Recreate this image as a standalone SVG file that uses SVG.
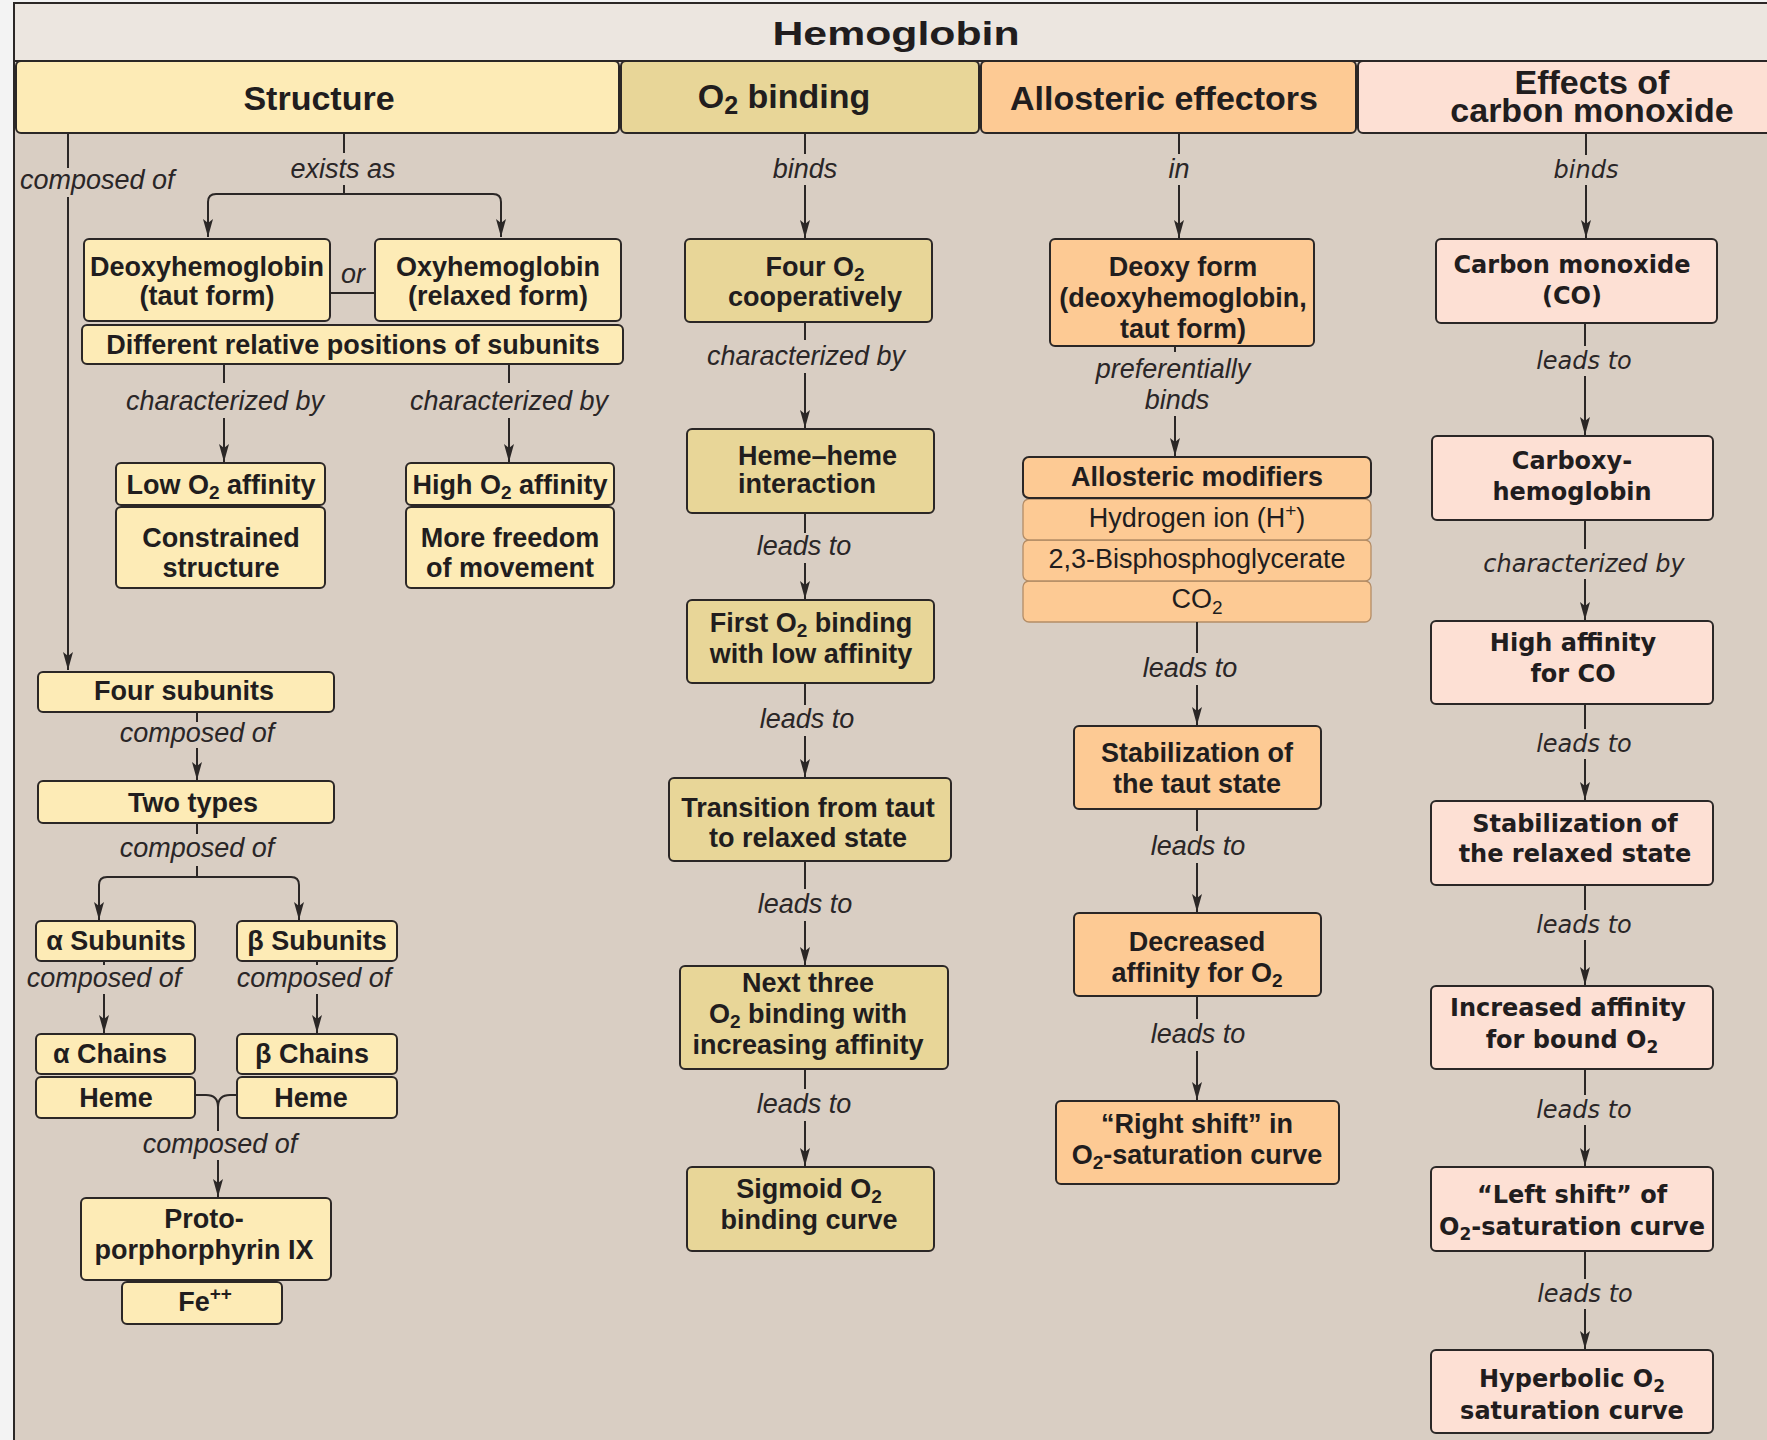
<svg xmlns="http://www.w3.org/2000/svg" width="1767" height="1440" viewBox="0 0 1767 1440">
<style>
.b{font-family:"Liberation Sans",Arial,sans-serif;font-weight:bold;font-size:27px;fill:#211d1e;text-anchor:middle}
.r{font-family:"Liberation Sans",Arial,sans-serif;font-size:27px;fill:#211d1e;text-anchor:middle}
.h{font-family:"Liberation Sans",Arial,sans-serif;font-weight:bold;font-size:34px;fill:#211d1e;text-anchor:middle}
.w{font-family:"DejaVu Sans",Verdana,sans-serif;font-weight:bold;font-size:24px;fill:#211d1e;text-anchor:middle}
.l{font-family:"Liberation Sans",Arial,sans-serif;font-style:italic;font-size:27px;fill:#2a2627;text-anchor:middle}
.lw{font-family:"DejaVu Sans",Verdana,sans-serif;font-style:oblique;font-size:24px;fill:#2a2627;text-anchor:middle}
.bx{stroke:#2b2726;stroke-width:2}
.sb{stroke:#b48d66;stroke-width:1.3}
.s{fill:#fdebb6}.o{fill:#e8d698}.a{fill:#fdca94}.c{fill:#fde0d4}
.ln{fill:none;stroke:#2b2726;stroke-width:2}
.ar{marker-end:url(#ah)}
</style>
<defs>
<marker id="ah" viewBox="0 0 18 10" refX="18" refY="5" markerWidth="18" markerHeight="10" markerUnits="userSpaceOnUse" orient="auto">
<path d="M0,0 L18,5 L0,10 L4,5 Z" fill="#2b2726"/>
</marker>
</defs>

<rect x="0" y="0" width="1767" height="1440" fill="#f3f3f3"/>
<rect x="14" y="3" width="1760" height="1440" fill="#d9cec3" stroke="#2b2726" stroke-width="2"/>

<g id="title">
<rect x="14" y="3" width="1760" height="58" fill="#ece6e0" stroke="#2b2726" stroke-width="2"/>
<text x="896" y="45" class="h" font-size="40" textLength="247" lengthAdjust="spacingAndGlyphs">Hemoglobin</text>
</g>

<g id="hdr-structure">
<rect x="16" y="61" width="603" height="72" rx="5" class="bx s"/>
<text x="319" y="110" class="h">Structure</text>
</g>
<g id="hdr-o2">
<rect x="621" y="61" width="358" height="72" rx="5" class="bx o"/>
<text x="784" y="108" class="h">O<tspan font-size="25" dy="6">2</tspan><tspan dy="-6"> binding</tspan></text>
</g>
<g id="hdr-allosteric">
<rect x="981" y="61" width="375" height="72" rx="5" class="bx a"/>
<text x="1164" y="110" class="h">Allosteric effectors</text>
</g>
<g id="hdr-co">
<rect x="1358" y="61" width="420" height="72" rx="5" class="bx c"/>
<text x="1592" y="94" class="h" font-size="33">Effects of</text>
<text x="1592" y="122" class="h" font-size="33">carbon monoxide</text>
</g>

<!-- Structure column -->
<g id="deoxy">
<rect x="84" y="239" width="246" height="82" rx="5" class="bx s"/>
<text x="207" y="276" class="b">Deoxyhemoglobin</text>
<text x="207" y="305" class="b">(taut form)</text>
</g>
<g id="oxy">
<rect x="375" y="239" width="246" height="82" rx="5" class="bx s"/>
<text x="498" y="276" class="b">Oxyhemoglobin</text>
<text x="498" y="305" class="b">(relaxed form)</text>
</g>
<g id="different">
<rect x="82" y="325" width="541" height="39" rx="5" class="bx s"/>
<text x="353" y="354" class="b">Different relative positions of subunits</text>
</g>
<g id="low-affinity">
<rect x="116" y="463" width="209" height="42" rx="5" class="bx s"/>
<text x="221" y="494" class="b">Low O<tspan font-size="19" dy="5">2</tspan><tspan dy="-5"> affinity</tspan></text>
</g>
<g id="constrained">
<rect x="116" y="507" width="209" height="81" rx="5" class="bx s"/>
<text x="221" y="547" class="b">Constrained</text>
<text x="221" y="577" class="b">structure</text>
</g>
<g id="high-affinity">
<rect x="406" y="463" width="208" height="42" rx="5" class="bx s"/>
<text x="510" y="494" class="b">High O<tspan font-size="19" dy="5">2</tspan><tspan dy="-5"> affinity</tspan></text>
</g>
<g id="more-freedom">
<rect x="406" y="507" width="208" height="81" rx="5" class="bx s"/>
<text x="510" y="547" class="b">More freedom</text>
<text x="510" y="577" class="b">of movement</text>
</g>
<g id="four-subunits">
<rect x="38" y="672" width="296" height="40" rx="5" class="bx s"/>
<text x="184" y="700" class="b">Four subunits</text>
</g>
<g id="two-types">
<rect x="38" y="781" width="296" height="42" rx="5" class="bx s"/>
<text x="193" y="812" class="b">Two types</text>
</g>
<g id="alpha-subunits">
<rect x="36" y="921" width="159" height="40" rx="5" class="bx s"/>
<text x="116" y="950" class="b">α Subunits</text>
</g>
<g id="beta-subunits">
<rect x="237" y="921" width="160" height="40" rx="5" class="bx s"/>
<text x="317" y="950" class="b">β Subunits</text>
</g>
<g id="alpha-chains">
<rect x="36" y="1034" width="159" height="40" rx="5" class="bx s"/>
<text x="110" y="1063" class="b">α Chains</text>
</g>
<g id="alpha-heme">
<rect x="36" y="1077" width="159" height="41" rx="5" class="bx s"/>
<text x="116" y="1107" class="b">Heme</text>
</g>
<g id="beta-chains">
<rect x="237" y="1034" width="160" height="40" rx="5" class="bx s"/>
<text x="312" y="1063" class="b">β Chains</text>
</g>
<g id="beta-heme">
<rect x="237" y="1077" width="160" height="41" rx="5" class="bx s"/>
<text x="311" y="1107" class="b">Heme</text>
</g>
<g id="protoporphyrin">
<rect x="81" y="1198" width="250" height="82" rx="5" class="bx s"/>
<text x="204" y="1228" class="b">Proto-</text>
<text x="204" y="1259" class="b">porphorphyrin IX</text>
</g>
<g id="fe">
<rect x="122" y="1282" width="160" height="42" rx="5" class="bx s"/>
<text x="205" y="1311" class="b">Fe<tspan font-size="19" dy="-11">++</tspan></text>
</g>

<!-- O2 binding column -->
<g id="four-o2">
<rect x="685" y="239" width="247" height="83" rx="5" class="bx o"/>
<text x="815" y="276" class="b">Four O<tspan font-size="19" dy="5">2</tspan></text>
<text x="815" y="306" class="b">cooperatively</text>
</g>
<g id="heme-heme">
<rect x="687" y="429" width="247" height="84" rx="5" class="bx o"/>
<text x="738" y="465" class="b" style="text-anchor:start">Heme–heme</text>
<text x="738" y="493" class="b" style="text-anchor:start">interaction</text>
</g>
<g id="first-o2">
<rect x="687" y="600" width="247" height="83" rx="5" class="bx o"/>
<text x="811" y="632" class="b">First O<tspan font-size="19" dy="5">2</tspan><tspan dy="-5"> binding</tspan></text>
<text x="811" y="663" class="b">with low affinity</text>
</g>
<g id="transition">
<rect x="669" y="778" width="282" height="83" rx="5" class="bx o"/>
<text x="808" y="817" class="b">Transition from taut</text>
<text x="808" y="847" class="b">to relaxed state</text>
</g>
<g id="next-three">
<rect x="680" y="966" width="268" height="103" rx="5" class="bx o"/>
<text x="808" y="992" class="b">Next three</text>
<text x="808" y="1023" class="b">O<tspan font-size="19" dy="5">2</tspan><tspan dy="-5"> binding with</tspan></text>
<text x="808" y="1054" class="b">increasing affinity</text>
</g>
<g id="sigmoid">
<rect x="687" y="1167" width="247" height="84" rx="5" class="bx o"/>
<text x="809" y="1198" class="b">Sigmoid O<tspan font-size="19" dy="5">2</tspan></text>
<text x="809" y="1229" class="b">binding curve</text>
</g>

<!-- Allosteric column -->
<g id="deoxy-form">
<rect x="1050" y="239" width="264" height="107" rx="5" class="bx a"/>
<text x="1183" y="276" class="b">Deoxy form</text>
<text x="1183" y="307" class="b">(deoxyhemoglobin,</text>
<text x="1183" y="338" class="b">taut form)</text>
</g>
<g id="allosteric-modifiers">
<rect x="1023" y="581" width="348" height="41" rx="6" class="sb a"/>
<rect x="1023" y="540" width="348" height="41" rx="6" class="sb a"/>
<rect x="1023" y="499" width="348" height="41" rx="6" class="sb a"/>
<rect x="1023" y="457" width="348" height="41" rx="6" class="bx a"/>
<text x="1197" y="486" class="b">Allosteric modifiers</text>
<text x="1197" y="527" class="r">Hydrogen ion (H<tspan font-size="19" dy="-10">+</tspan><tspan dy="10">)</tspan></text>
<text x="1197" y="568" class="r">2,3-Bisphosphoglycerate</text>
<text x="1197" y="608" class="r">CO<tspan font-size="19" dy="6">2</tspan></text>
</g>
<g id="stab-taut">
<rect x="1074" y="726" width="247" height="83" rx="5" class="bx a"/>
<text x="1197" y="762" class="b">Stabilization of</text>
<text x="1197" y="793" class="b">the taut state</text>
</g>
<g id="decreased">
<rect x="1074" y="913" width="247" height="83" rx="5" class="bx a"/>
<text x="1197" y="951" class="b">Decreased</text>
<text x="1197" y="982" class="b">affinity for O<tspan font-size="19" dy="5">2</tspan></text>
</g>
<g id="right-shift">
<rect x="1056" y="1101" width="283" height="83" rx="5" class="bx a"/>
<text x="1197" y="1133" class="b">“Right shift” in</text>
<text x="1197" y="1164" class="b">O<tspan font-size="19" dy="5">2</tspan><tspan dy="-5">-saturation curve</tspan></text>
</g>

<!-- CO column -->
<g id="carbon-monoxide">
<rect x="1436" y="239" width="281" height="84" rx="5" class="bx c"/>
<text x="1572" y="273" class="w">Carbon monoxide</text>
<text x="1572" y="304" class="w">(CO)</text>
</g>
<g id="carboxyhemoglobin">
<rect x="1432" y="436" width="281" height="84" rx="5" class="bx c"/>
<text x="1572" y="469" class="w">Carboxy-</text>
<text x="1572" y="500" class="w">hemoglobin</text>
</g>
<g id="high-affinity-co">
<rect x="1431" y="621" width="282" height="83" rx="5" class="bx c"/>
<text x="1573" y="651" class="w">High affinity</text>
<text x="1573" y="682" class="w">for CO</text>
</g>
<g id="stab-relaxed">
<rect x="1431" y="801" width="282" height="84" rx="5" class="bx c"/>
<text x="1575" y="832" class="w">Stabilization of</text>
<text x="1575" y="862" class="w">the relaxed state</text>
</g>
<g id="increased">
<rect x="1431" y="986" width="282" height="83" rx="5" class="bx c"/>
<text x="1568" y="1016" class="w">Increased affinity</text>
<text x="1572" y="1048" class="w">for bound O<tspan font-size="17" dy="5">2</tspan></text>
</g>
<g id="left-shift">
<rect x="1431" y="1167" width="282" height="84" rx="5" class="bx c"/>
<text x="1572" y="1203" class="w">“Left shift” of</text>
<text x="1572" y="1235" class="w">O<tspan font-size="17" dy="5">2</tspan><tspan dy="-5">-saturation curve</tspan></text>
</g>
<g id="hyperbolic">
<rect x="1431" y="1350" width="282" height="83" rx="5" class="bx c"/>
<text x="1572" y="1387" class="w">Hyperbolic O<tspan font-size="17" dy="5">2</tspan></text>
<text x="1572" y="1419" class="w">saturation curve</text>
</g>

<g id="connectors">
<!-- structure -->
<path class="ln" d="M68,133 V168"/>
<path class="ln ar" d="M68,197 V670"/>
<path class="ln" d="M344,133 V153"/>
<path class="ln ar" d="M344,185 V194 H216 Q208,194 208,202 V237"/>
<path class="ln ar" d="M344,194 H493 Q501,194 501,202 V237"/>
<path class="ln" d="M330,293 H375"/>
<path class="ln" d="M224,364 V383"/>
<path class="ln ar" d="M224,418 V462"/>
<path class="ln" d="M509,364 V383"/>
<path class="ln ar" d="M509,418 V462"/>
<path class="ln" d="M197,712 V722"/>
<path class="ln ar" d="M197,748 V780"/>
<path class="ln" d="M197,823 V834"/>
<path class="ln ar" d="M197,866 V877 H107 Q99,877 99,885 V920"/>
<path class="ln ar" d="M197,877 H291 Q299,877 299,885 V920"/>
<path class="ln" d="M104,961 V965"/>
<path class="ln ar" d="M104,994 V1033"/>
<path class="ln" d="M317,961 V965"/>
<path class="ln ar" d="M317,994 V1033"/>
<path class="ln" d="M195,1095 H206 Q218,1095 218,1107 V1131 M237,1095 H230 Q218,1095 218,1107"/>
<path class="ln ar" d="M218,1160 V1197"/>
<!-- O2 binding -->
<path class="ln" d="M805,133 V154"/>
<path class="ln ar" d="M805,185 V238"/>
<path class="ln" d="M805,322 V340"/>
<path class="ln ar" d="M805,373 V428"/>
<path class="ln" d="M805,513 V533"/>
<path class="ln ar" d="M805,563 V599"/>
<path class="ln" d="M805,683 V705"/>
<path class="ln ar" d="M805,736 V777"/>
<path class="ln" d="M805,861 V889"/>
<path class="ln ar" d="M805,921 V965"/>
<path class="ln" d="M805,1069 V1089"/>
<path class="ln ar" d="M805,1121 V1166"/>
<!-- allosteric -->
<path class="ln" d="M1179,133 V154"/>
<path class="ln ar" d="M1179,185 V238"/>
<path class="ln" d="M1175,346 V352"/>
<path class="ln ar" d="M1175,416 V456"/>
<path class="ln" d="M1197,622 V653"/>
<path class="ln ar" d="M1197,685 V725"/>
<path class="ln" d="M1197,809 V831"/>
<path class="ln ar" d="M1197,863 V912"/>
<path class="ln" d="M1197,996 V1019"/>
<path class="ln ar" d="M1197,1051 V1100"/>
<!-- CO -->
<path class="ln" d="M1586,133 V155"/>
<path class="ln ar" d="M1586,185 V238"/>
<path class="ln" d="M1585,323 V346"/>
<path class="ln ar" d="M1585,376 V435"/>
<path class="ln" d="M1585,520 V549"/>
<path class="ln ar" d="M1585,579 V620"/>
<path class="ln" d="M1585,704 V729"/>
<path class="ln ar" d="M1585,759 V800"/>
<path class="ln" d="M1585,885 V910"/>
<path class="ln ar" d="M1585,940 V985"/>
<path class="ln" d="M1585,1069 V1095"/>
<path class="ln ar" d="M1585,1125 V1166"/>
<path class="ln" d="M1585,1251 V1279"/>
<path class="ln ar" d="M1585,1309 V1349"/>

<!-- labels -->
<text x="20" y="189" class="l" style="text-anchor:start">composed of</text>
<text x="343" y="178" class="l">exists as</text>
<text x="353" y="283" class="l">or</text>
<text x="225" y="410" class="l">characterized by</text>
<text x="509" y="410" class="l">characterized by</text>
<text x="197" y="742" class="l">composed of</text>
<text x="197" y="857" class="l">composed of</text>
<text x="104" y="987" class="l">composed of</text>
<text x="314" y="987" class="l">composed of</text>
<text x="220" y="1153" class="l">composed of</text>

<text x="805" y="178" class="l">binds</text>
<text x="806" y="365" class="l">characterized by</text>
<text x="804" y="555" class="l">leads to</text>
<text x="807" y="728" class="l">leads to</text>
<text x="805" y="913" class="l">leads to</text>
<text x="804" y="1113" class="l">leads to</text>

<text x="1179" y="178" class="l">in</text>
<text x="1173" y="378" class="l">preferentially</text>
<text x="1177" y="409" class="l">binds</text>
<text x="1190" y="677" class="l">leads to</text>
<text x="1198" y="855" class="l">leads to</text>
<text x="1198" y="1043" class="l">leads to</text>

<text x="1586" y="178" class="lw">binds</text>
<text x="1584" y="369" class="lw">leads to</text>
<text x="1584" y="572" class="lw">characterized by</text>
<text x="1584" y="752" class="lw">leads to</text>
<text x="1584" y="933" class="lw">leads to</text>
<text x="1584" y="1118" class="lw">leads to</text>
<text x="1585" y="1302" class="lw">leads to</text>
</g>
</svg>
